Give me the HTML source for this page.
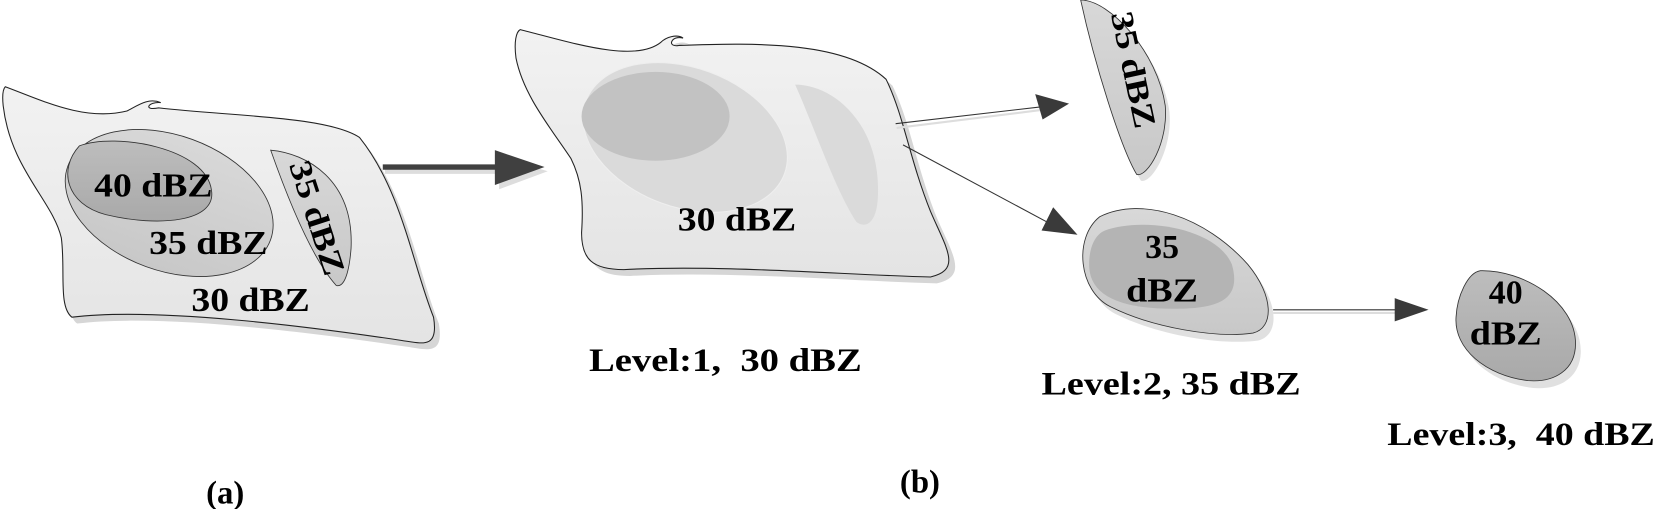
<!DOCTYPE html>
<html><head><meta charset="utf-8"><style>html,body{margin:0;padding:0;background:#fff}svg{display:block}</style></head><body>
<svg width="1658" height="509" viewBox="0 0 1568 481.4" preserveAspectRatio="none" xmlns="http://www.w3.org/2000/svg" font-family="'Liberation Serif', serif" font-weight="bold">
<defs>
<linearGradient id="g1" x1="0" y1="0" x2="0" y2="1"><stop offset="0" stop-color="#f2f2f2"/><stop offset="1" stop-color="#e4e4e4"/></linearGradient>
<linearGradient id="g2" x1="0" y1="0" x2="0" y2="1"><stop offset="0" stop-color="#d8d8d8"/><stop offset="1" stop-color="#c8c8c8"/></linearGradient>
<linearGradient id="g3" x1="0" y1="0" x2="0" y2="1"><stop offset="0" stop-color="#bdbdbd"/><stop offset="1" stop-color="#a9a9a9"/></linearGradient>
</defs>
<g>
<path transform="translate(5,6)" fill="#d6d6d6" d="M5,82 C40,95 80,115 120,105 C130,100 140,92 152,97 C140,96 135,105 150,102 C220,110 310,110 340,130 C380,180 390,250 410,300 C415,330 400,325 380,322 C300,310 150,290 68,300 C55,290 62,255 58,225 C50,190 10,160 3,100 C2,90 3,84 5,82 Z"/>
<path fill="url(#g1)" stroke="#222" stroke-width="1" d="M5,82 C40,95 80,115 120,105 C130,100 140,92 152,97 C140,96 135,105 150,102 C220,110 310,110 340,130 C380,180 390,250 410,300 C415,330 400,325 380,322 C300,310 150,290 68,300 C55,290 62,255 58,225 C50,190 10,160 3,100 C2,90 3,84 5,82 Z"/>
<ellipse cx="160" cy="192" rx="102" ry="64" transform="rotate(20 160 192)" fill="url(#g2)" stroke="#333" stroke-width="0.8"/>
<path d="M75,138 C110,125 195,140 200,180 C205,210 150,215 100,203 C62,193 55,160 75,138 Z" fill="url(#g3)" stroke="#333" stroke-width="0.8"/>
<path d="M256,142 C290,145 335,170 332,235 C330,260 325,272 318,270 C300,250 280,210 256,142 Z" fill="url(#g2)" stroke="#333" stroke-width="0.8"/>
<text x="145" y="186" font-size="32" text-anchor="middle" textLength="112" lengthAdjust="spacingAndGlyphs">40 dBZ</text>
<text x="197" y="240" font-size="32" text-anchor="middle" textLength="112" lengthAdjust="spacingAndGlyphs">35 dBZ</text>
<text x="237" y="294" font-size="32" text-anchor="middle" textLength="112" lengthAdjust="spacingAndGlyphs">30 dBZ</text>
<text transform="translate(300,206) rotate(72)" font-size="30" text-anchor="middle" textLength="112" lengthAdjust="spacingAndGlyphs" y="10">35 dBZ</text>
</g>
<line x1="364" y1="162" x2="472" y2="162" stroke="#ddd" stroke-width="5"/>
<polygon points="472,148 518,162 472,179" fill="#ddd"/>
<line x1="362" y1="158" x2="470" y2="158" stroke="#404040" stroke-width="5"/>
<polygon points="468,142 515,158 468,175" fill="#404040"/>
<path transform="translate(6,6)" fill="#d6d6d6" d="M492,28 C540,40 600,60 625,40 C630,35 640,32 646,36 C635,33 630,45 642,43 C720,40 800,40 838,75 C855,110 860,150 880,200 C895,235 910,255 880,262 C800,260 680,250 590,255 C560,255 550,245 550,220 C552,190 550,170 540,150 C520,120 495,90 488,55 C486,40 488,30 492,28 Z"/>
<path fill="url(#g1)" stroke="#222" stroke-width="1" d="M492,28 C540,40 600,60 625,40 C630,35 640,32 646,36 C635,33 630,45 642,43 C720,40 800,40 838,75 C855,110 860,150 880,200 C895,235 910,255 880,262 C800,260 680,250 590,255 C560,255 550,245 550,220 C552,190 550,170 540,150 C520,120 495,90 488,55 C486,40 488,30 492,28 Z"/>
<ellipse cx="648" cy="130" rx="100" ry="66" transform="rotate(20 648 130)" fill="#dadada" stroke="#eee" stroke-width="1"/>
<ellipse cx="620" cy="110" rx="70" ry="42" fill="#c2c2c2"/>
<path d="M752,80 C790,80 835,120 830,190 C828,212 818,216 810,210 C790,180 770,120 752,80 Z" fill="#dadada"/>
<text x="697" y="218" font-size="32" text-anchor="middle" textLength="112" lengthAdjust="spacingAndGlyphs">30 dBZ</text>
<line x1="848" y1="121" x2="985" y2="104" stroke="#ddd" stroke-width="2"/>
<line x1="847" y1="117" x2="985" y2="101" stroke="#333" stroke-width="1"/>
<polygon points="979,89 1011,98 986,113" fill="#3a3a3a"/>
<line x1="854" y1="137" x2="994" y2="212" stroke="#333" stroke-width="1"/>
<polygon points="996,196 1019,222 985,218" fill="#3a3a3a"/>
<line x1="1204" y1="296" x2="1322" y2="296" stroke="#ddd" stroke-width="2"/>
<line x1="1204" y1="293" x2="1322" y2="293" stroke="#333" stroke-width="1"/>
<polygon points="1319,282 1351,293 1319,304" fill="#3a3a3a"/>
<path transform="translate(4,6)" fill="#e0e0e0" d="M1022,0 C1050,0 1095,50 1102,100 C1105,135 1085,168 1075,165 C1060,140 1035,60 1022,0 Z"/>
<path fill="url(#g2)" stroke="#333" stroke-width="0.8" d="M1022,0 C1050,0 1095,50 1102,100 C1105,135 1085,168 1075,165 C1060,140 1035,60 1022,0 Z"/>
<text transform="translate(1072,66) rotate(78)" font-size="30" text-anchor="middle" textLength="112" lengthAdjust="spacingAndGlyphs" y="10">35 dBZ</text>
<path transform="translate(5,7)" fill="#e0e0e0" d="M1040,205 C1080,185 1140,205 1180,250 C1205,280 1205,310 1185,315 C1150,320 1090,310 1050,290 C1020,275 1015,225 1040,205 Z"/>
<path fill="url(#g2)" stroke="#333" stroke-width="0.8" d="M1040,205 C1080,185 1140,205 1180,250 C1205,280 1205,310 1185,315 C1150,320 1090,310 1050,290 C1020,275 1015,225 1040,205 Z"/>
<path fill="#b4b4b4" d="M1045,218 C1080,205 1150,215 1165,250 C1175,285 1150,292 1110,292 C1060,292 1030,280 1030,250 C1030,235 1035,222 1045,218 Z"/>
<text x="1099" y="244" font-size="32" text-anchor="middle">35</text>
<text x="1099" y="285" font-size="32" text-anchor="middle" textLength="68" lengthAdjust="spacingAndGlyphs">dBZ</text>
<path transform="translate(5,7)" fill="#e0e0e0" d="M1400,256 C1440,255 1490,285 1490,325 C1490,350 1470,362 1445,360 C1405,355 1375,330 1377,300 C1378,280 1388,258 1400,256 Z"/>
<path fill="url(#g3)" stroke="#333" stroke-width="0.8" d="M1400,256 C1440,255 1490,285 1490,325 C1490,350 1470,362 1445,360 C1405,355 1375,330 1377,300 C1378,280 1388,258 1400,256 Z"/>
<text x="1424" y="287" font-size="32" text-anchor="middle">40</text>
<text x="1424" y="326" font-size="32" text-anchor="middle" textLength="68" lengthAdjust="spacingAndGlyphs">dBZ</text>
<text x="557" y="351" font-size="31" textLength="258" lengthAdjust="spacingAndGlyphs" xml:space="preserve">Level:1,  30 dBZ</text>
<text x="985" y="373" font-size="31" textLength="245" lengthAdjust="spacingAndGlyphs">Level:2, 35 dBZ</text>
<text x="1312" y="421" font-size="31" textLength="253" lengthAdjust="spacingAndGlyphs" xml:space="preserve">Level:3,  40 dBZ</text>
<text x="213" y="476" font-size="31" text-anchor="middle">(a)</text>
<text x="870" y="466" font-size="31" text-anchor="middle">(b)</text>
</svg>
</body></html>
